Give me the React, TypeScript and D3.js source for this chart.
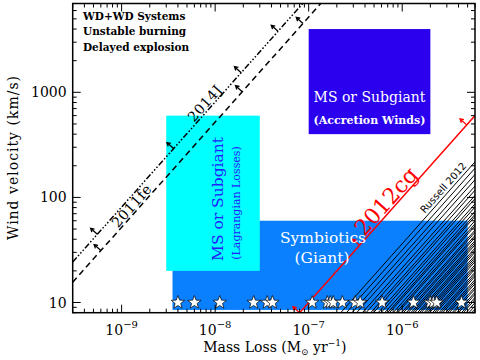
import * as d3 from "d3";

const WIDTH = 480;
const HEIGHT = 360;
const margin = { top: 3.5, right: 5, bottom: 47.3, left: 72.7 };

// axis ranges: mass loss (Msun/yr) and wind velocity (km/s)
const massRange = [3e-10, 6e-6];
const velRange = [8, 7000];
const massTickExponents = [-9, -8, -7, -6];
const velTickValues = [10, 100, 1000];
const velTickLabels = ["10", "100", "1000"];

// shaded regions: symbiotics, lagrangian losses, accretion winds
const regionMassLo = [3.5e-9, 3e-9, 1e-7];
const regionMassHi = [5e-6, 3e-8, 2e-6];
const regionVelLo = [8.5, 20, 400];
const regionVelHi = [60, 600, 4000];
const regionColors = ["#0a80ff", "#00ffff", "#2a00ee"];

// SN limits as v / Mdot
const snNames = ["2014J", "2011fe", "2012cg"];
const snRatio = [8.1e10, 5.2e10, 1e8];
const snStartMass = [3e-10, 3e-10, 8e-8];
const snArrowMass = [
  [5.5e-10, 3.6e-9, 1.9e-8, 4.7e-8],
  [6e-10, 1.95e-8, 8.7e-8],
  [8e-8, 3.5e-7, 4.9e-6],
];
const snLabelMass = [8.8e-9, 1.45e-9, 8.0e-7];
const snColors = ["#000000", "#000000", "#ff0000"];
const snDash = ["6,2,1.5,2,1.5,2,1.5,2", "6,4", ""];

// Russell 2012 limits, log10(v / Mdot)
const russellLogRatio = [
  7.56, 7.5, 7.44, 7.39, 7.33, 7.29, 7.24, 7.21, 7.16, 7.13, 7.09, 7.06,
  7.04, 7.0, 6.97, 6.95, 6.91, 6.89, 6.86, 6.84, 6.81, 6.79, 6.77, 6.74,
  6.72, 6.7, 6.67, 6.65, 6.63, 6.61, 6.58, 6.56, 6.54, 6.51, 6.49, 6.47,
  6.44, 6.42, 6.4, 6.37, 6.35, 6.32, 6.3, 6.27, 6.25, 6.22, 6.19, 6.16, 6.13,
];

// symbiotic systems, plotted at 10 km/s
const starMass = [
  4e-9, 6e-9, 1.12e-8, 2.58e-8, 3.6e-8, 4.1e-8, 1.09e-7, 1.58e-7, 1.7e-7,
  1.83e-7, 2.29e-7, 3.14e-7, 3.55e-7, 6.1e-7, 1.32e-6, 1.99e-6, 2.15e-6,
  2.34e-6, 4.3e-6,
];
const starVel = 10;

const innerW = WIDTH - margin.left - margin.right;
const innerH = HEIGHT - margin.top - margin.bottom;

function starPath(r: number) {
  const pts: [number, number][] = [];
  for (let i = 0; i < 10; i++) {
    const a = -Math.PI / 2 + (i * Math.PI) / 5;
    const rr = i % 2 === 0 ? r : r * 0.42;
    pts.push([rr * Math.cos(a), rr * Math.sin(a)]);
  }
  return "M" + pts.map((p) => p.join(",")).join("L") + "Z";
}

export default function App() {
  const x = d3.scaleLog().domain(massRange).range([0, innerW]);
  const y = d3.scaleLog().domain(velRange).range([innerH, 0]);

  // direction of a slope-1 line in pixel space
  const dx = x(1e-8) - x(1e-9);
  const dy = y(100) - y(10);
  const len = Math.hypot(dx, dy);
  const ux = dx / len;
  const uy = dy / len;
  const angle = (Math.atan2(uy, ux) * 180) / Math.PI;
  // perpendicular, pointing up-left
  const px = uy;
  const py = -ux;

  const line = d3
    .line<number[]>()
    .x((d) => x(d[0]))
    .y((d) => y(d[1]));

  const arrow = (m: number, k: number) => {
    const bx = x(m);
    const by = y(k * m);
    const tx = bx + px * 9;
    const ty = by + py * 9;
    const h = 4;
    const c = Math.cos(Math.PI / 6);
    const s = Math.sin(Math.PI / 6);
    // back direction from tip
    const rx = -px;
    const ry = -py;
    const h1x = tx + h * (rx * c - ry * s);
    const h1y = ty + h * (rx * s + ry * c);
    const h2x = tx + h * (rx * c + ry * s);
    const h2y = ty + h * (-rx * s + ry * c);
    return `M${bx},${by}L${tx},${ty}M${h1x},${h1y}L${tx},${ty}L${h2x},${h2y}`;
  };

  // tick marks on all four sides, pointing inward
  const majorX = massTickExponents.map((e) => Math.pow(10, e));
  const minorX: number[] = [];
  for (let e = -10; e <= -6; e++)
    for (let k = 2; k <= 9; k++) {
      const v = k * Math.pow(10, e);
      if (v >= massRange[0] && v <= massRange[1]) minorX.push(v);
    }
  const minorY: number[] = [];
  for (let e = 0; e <= 3; e++)
    for (let k = 2; k <= 9; k++) {
      const v = k * Math.pow(10, e);
      if (v >= velRange[0] && v <= velRange[1]) minorY.push(v);
    }

  const font = "'DejaVu Serif', serif";

  return (
    <svg
      width={WIDTH}
      height={HEIGHT}
      style={{ position: "absolute", left: 0, top: 0, background: "#fff" }}
    >
      <defs>
        <clipPath id="plot-clip">
          <rect x={0} y={0} width={innerW} height={innerH} />
        </clipPath>
      </defs>
      <g transform={`translate(${margin.left},${margin.top})`}>
        <g clipPath="url(#plot-clip)">
          {/* shaded regions */}
          {regionMassLo.map((m0, i) => (
            <rect
              key={i}
              x={x(m0)}
              y={y(regionVelHi[i])}
              width={x(regionMassHi[i]) - x(m0)}
              height={y(regionVelLo[i]) - y(regionVelHi[i])}
              fill={regionColors[i]}
            />
          ))}

          {/* Russell 2012 limits */}
          {russellLogRatio.map((lr, i) => {
            const k = Math.pow(10, lr);
            return (
              <path
                key={i}
                d={line([
                  [velRange[0] / k / 1.2, velRange[0] / 1.2],
                  [massRange[1] * 1.2, k * massRange[1] * 1.2],
                ])!}
                stroke="#000"
                strokeWidth={1}
                fill="none"
              />
            );
          })}

          {/* SN limits */}
          {snNames.map((name, i) => (
            <g key={name}>
              <path
                d={line([
                  [snStartMass[i], snRatio[i] * snStartMass[i]],
                  [massRange[1] * 1.2, snRatio[i] * massRange[1] * 1.2],
                ])!}
                stroke={snColors[i]}
                strokeWidth={1.5}
                strokeDasharray={snDash[i] || undefined}
                fill="none"
              />
              {snArrowMass[i].map((m, j) => (
                <path
                  key={j}
                  d={arrow(m, snRatio[i])}
                  stroke={snColors[i]}
                  strokeWidth={1.3}
                  fill="none"
                />
              ))}
            </g>
          ))}

          {/* symbiotic stars */}
          {starMass.map((m, i) => (
            <path
              key={i}
              d={starPath(7)}
              transform={`translate(${x(m)},${y(starVel)})`}
              fill="#fff"
              stroke="#000"
              strokeWidth={0.7}
            />
          ))}
        </g>

        {/* line labels */}
        {snNames.map((name, i) => {
          const m = snLabelMass[i];
          const big = i === 2;
          return (
            <text
              key={name}
              transform={`translate(${x(m)},${y(snRatio[i] * m)}) rotate(${angle})`}
              dy={-2}
              textAnchor="middle"
              fontFamily={font}
              fontSize={big ? 22 : 14}
              letterSpacing={big ? 0 : 0.5}
              fill={snColors[i]}
            >
              {name}
            </text>
          );
        })}
        <text
          transform={`translate(${x(3.1e-6)},${y(Math.pow(10, russellLogRatio[0]) * 3.1e-6)}) rotate(${angle})`}
          dy={-3}
          textAnchor="middle"
          fontFamily="'DejaVu Sans', sans-serif"
          fontSize={10}
          fill="#000"
        >
          Russell 2012
        </text>

        {/* region labels */}
        <text
          x={(x(regionMassLo[2]) + x(regionMassHi[2])) / 2}
          y={98}
          textAnchor="middle"
          fontFamily={font}
          fontSize={14}
          fill="#fff"
        >
          MS or Subgiant
        </text>
        <text
          x={(x(regionMassLo[2]) + x(regionMassHi[2])) / 2}
          y={120}
          textAnchor="middle"
          fontFamily={font}
          fontSize={11}
          fontWeight="bold"
          fill="#fff"
        >
          (Accretion Winds)
        </text>
        <text
          transform={`translate(${223 - margin.left},${199 - margin.top}) rotate(-90)`}
          textAnchor="middle"
          fontFamily={font}
          fontSize={15.5}
          fill="#2222ff"
        >
          MS or Subgiant
        </text>
        <text
          transform={`translate(${240 - margin.left},${203 - margin.top}) rotate(-90)`}
          textAnchor="middle"
          fontFamily={font}
          fontSize={11}
          fill="#2222ff"
        >
          (Lagrangian Losses)
        </text>
        <text
          x={323 - margin.left}
          y={243 - margin.top}
          textAnchor="middle"
          fontFamily={font}
          fontSize={15.5}
          fill="#fff"
        >
          Symbiotics
        </text>
        <text
          x={322 - margin.left}
          y={263 - margin.top}
          textAnchor="middle"
          fontFamily={font}
          fontSize={15.5}
          fill="#fff"
        >
          (Giant)
        </text>

        {/* top-left notes */}
        {["WD+WD Systems", "Unstable burning", "Delayed explosion"].map((t, i) => (
          <text
            key={t}
            x={83 - margin.left}
            y={20 - margin.top + i * 15.3}
            fontFamily={font}
            fontSize={10.5}
            fontWeight="bold"
            fill="#000"
          >
            {t}
          </text>
        ))}

        {/* ticks */}
        <g stroke="#000" strokeWidth={1}>
          {majorX.map((v) => (
            <g key={"mx" + v}>
              <line x1={x(v)} x2={x(v)} y1={innerH} y2={innerH - 8} />
              <line x1={x(v)} x2={x(v)} y1={0} y2={8} />
            </g>
          ))}
          {minorX.map((v) => (
            <g key={"nx" + v}>
              <line x1={x(v)} x2={x(v)} y1={innerH} y2={innerH - 4} />
              <line x1={x(v)} x2={x(v)} y1={0} y2={4} />
            </g>
          ))}
          {velTickValues.map((v) => (
            <g key={"my" + v}>
              <line x1={0} x2={8} y1={y(v)} y2={y(v)} />
              <line x1={innerW} x2={innerW - 8} y1={y(v)} y2={y(v)} />
            </g>
          ))}
          {minorY.map((v) => (
            <g key={"ny" + v}>
              <line x1={0} x2={4} y1={y(v)} y2={y(v)} />
              <line x1={innerW} x2={innerW - 4} y1={y(v)} y2={y(v)} />
            </g>
          ))}
        </g>
        <rect
          x={0}
          y={0}
          width={innerW}
          height={innerH}
          fill="none"
          stroke="#000"
          strokeWidth={1.5}
        />

        {/* tick labels */}
        {massTickExponents.map((e) => (
          <text
            key={e}
            x={x(Math.pow(10, e))}
            y={innerH + 22}
            textAnchor="middle"
            fontFamily={font}
            fontSize={14}
            fill="#000"
          >
            10
            <tspan fontSize={10} dy={-7}>
              {"\u2212" + -e}
            </tspan>
          </text>
        ))}
        {velTickValues.map((v, i) => (
          <text
            key={v}
            x={-6}
            y={y(v)}
            dy="0.36em"
            textAnchor="end"
            fontFamily={font}
            fontSize={14}
            fill="#000"
          >
            {velTickLabels[i]}
          </text>
        ))}

        {/* axis titles */}
        <text
          x={innerW / 2 + 1}
          y={352 - margin.top}
          textAnchor="middle"
          fontFamily={font}
          fontSize={14}
          fill="#000"
        >
          Mass Loss (M
          <tspan fontSize={9} dy={3}>
            {"\u2299"}
          </tspan>
          <tspan dy={-3}> yr</tspan>
          <tspan fontSize={9} dy={-6}>
            {"\u22121"}
          </tspan>
          <tspan dy={6}>)</tspan>
        </text>
        <text
          transform={`translate(${18 - margin.left},${157.5 - margin.top}) rotate(-90)`}
          textAnchor="middle"
          fontFamily={font}
          fontSize={14}
          letterSpacing={1}
          fill="#000"
        >
          Wind velocity (km/s)
        </text>
      </g>
    </svg>
  );
}
